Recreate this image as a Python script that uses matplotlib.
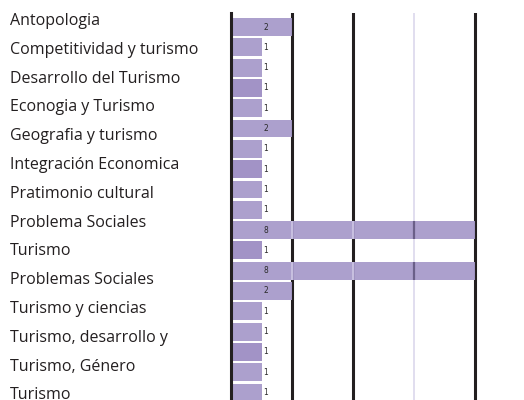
import matplotlib
matplotlib.use("Agg")
import matplotlib.pyplot as plt

# etiquetas del eje (solo 14 visibles, las barras son 19)
categorias = [
    "Antopologia", "Competitividad y turismo", "Desarrollo del Turismo",
    "Econogia y Turismo", "Geografia y turismo", "Integración Economica",
    "Pratimonio cultural", "Problema Sociales", "Turismo",
    "Problemas Sociales", "Turismo y ciencias", "Turismo, desarrollo y",
    "Turismo, Género", "Turismo",
]
valores = [2, 1, 1, 1, 1, 2, 1, 1, 1, 1, 8, 1, 8, 2, 1, 1, 1, 1, 1]
oscuras = [3, 7, 11, 16]   # barras con tono un poco más oscuro
grid_negro = [2, 4, 8]
grid_claro = [6]

c_claro = "#a89bcb"
c_oscuro = "#9d8dc3"

fig = plt.figure(figsize=(5.24, 4.0), dpi=100)
ax = fig.add_axes([231 / 524, 0.0, 1 - 231 / 524, 1 - 13 / 400])

n = len(valores)
ys = list(range(n))
colores = [c_oscuro if i in oscuras else c_claro for i in ys]

for g in grid_negro:
    ax.axvline(g, color="#231f20", lw=2.2, zorder=1)
for g in grid_claro:
    ax.axvline(g, color="#dcd8ec", lw=1.2, zorder=1)

ax.barh(ys, valores, height=0.88, color=colores, alpha=0.95, zorder=2)

# separaciones visibles sobre las barras largas
alto = 0.88
for y, v in zip(ys, valores):
    for g in grid_negro:
        if v > g:
            ax.vlines(g, y - alto / 2, y + alto / 2, color="#cfc8e6", lw=1.2, zorder=3)
    for g in grid_claro:
        if v > g:
            ax.vlines(g, y - alto / 2, y + alto / 2, color="#6a5f88", lw=1.6, zorder=3)
    ax.text(1.15, y, str(v), ha="center", va="center", fontsize=5.5,
            color="#2a2a2a", zorder=4)

ax.set_xlim(0, (524 - 231) / 30.5)
ax.set_ylim(n - 1 + 0.37, -0.69)
ax.set_xticks([])
ax.set_yticks([])
for s in ["top", "right", "bottom"]:
    ax.spines[s].set_visible(False)
ax.spines["left"].set_color("#231f20")
ax.spines["left"].set_linewidth(2.2)
ax.spines["left"].set_zorder(5)

for i, cat in enumerate(categorias):
    y_px = 21 + i * 28.8
    fig.text(10 / 524, 1 - y_px / 400, cat, ha="left", va="center",
             fontsize=11.5, family="Open Sans", color="#231f20")

fig.savefig("out.png", dpi=100)
